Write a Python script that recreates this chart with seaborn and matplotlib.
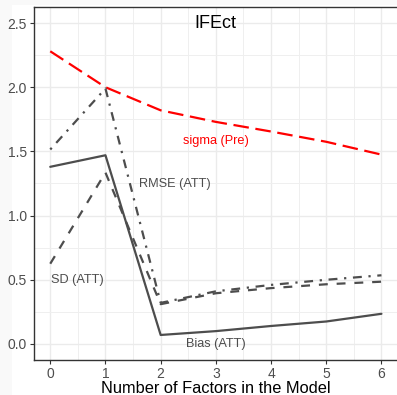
import matplotlib
matplotlib.use("Agg")
import matplotlib.pyplot as plt
from matplotlib.patches import Rectangle
from matplotlib.ticker import MultipleLocator
import pandas as pd
import seaborn as sns

factors = [0, 1, 2, 3, 4, 5, 6]
sigma_pre = [2.28, 2.00, 1.82, 1.73, 1.655, 1.575, 1.475]
rmse_att = [1.515, 1.99, 0.32, 0.41, 0.46, 0.50, 0.535]
sd_att = [0.625, 1.335, 0.31, 0.395, 0.435, 0.465, 0.485]
bias_att = [1.38, 1.47, 0.07, 0.10, 0.14, 0.175, 0.235]

series_names = ["sigma (Pre)", "RMSE (ATT)", "SD (ATT)", "Bias (ATT)"]
series_values = [sigma_pre, rmse_att, sd_att, bias_att]

df = pd.concat(
    [pd.DataFrame({"r": factors, "value": vals, "measure": name})
     for name, vals in zip(series_names, series_values)],
    ignore_index=True,
)

sns.set_theme(style="white")
plt.rcParams["font.family"] = ["Liberation Sans", "DejaVu Sans"]

fig = plt.figure(figsize=(3.97, 3.95), dpi=100)
fig.patch.set_facecolor("#f9f9f9")
fig.add_artist(Rectangle((12 / 397, 0), 1, (395 - 5) / 395,
                         transform=fig.transFigure, facecolor="white",
                         edgecolor="none", zorder=0))
ax = fig.add_axes([33.7 / 397, 35 / 395, (398 - 33.7) / 397, (360 - 7) / 395])
ax.set_facecolor("white")

palette = {"sigma (Pre)": "#ff0000", "RMSE (ATT)": "#4d4d4d",
           "SD (ATT)": "#4d4d4d", "Bias (ATT)": "#4d4d4d"}
dashes = {"sigma (Pre)": (7, 3), "RMSE (ATT)": (1, 3, 4, 3),
          "SD (ATT)": (4, 4), "Bias (ATT)": ""}

sns.lineplot(data=df, x="r", y="value", hue="measure", style="measure",
             palette=palette, dashes=dashes, linewidth=1.6, legend=False,
             ax=ax, zorder=3)

ax.set_xlim(-0.3, 6.3)
ax.set_ylim(-0.125, 2.625)
ax.xaxis.set_major_locator(MultipleLocator(1))
ax.xaxis.set_minor_locator(MultipleLocator(0.5))
ax.yaxis.set_major_locator(MultipleLocator(0.5))
ax.yaxis.set_minor_locator(MultipleLocator(0.25))
ax.set_xticks(factors)
ax.set_yticks([0.0, 0.5, 1.0, 1.5, 2.0, 2.5])
ax.set_yticklabels(["0.0", "0.5", "1.0", "1.5", "2.0", "2.5"])
ax.grid(which="major", color="#ebebeb", linewidth=1.0, zorder=0)
ax.grid(which="minor", color="#efefef", linewidth=0.7, zorder=0)
ax.set_axisbelow(True)

for side in ["left", "bottom", "top", "right"]:
    ax.spines[side].set_color("#333333")
    ax.spines[side].set_linewidth(1.0)

ax.tick_params(axis="both", which="major", length=3, width=0.8,
               color="#333333", labelcolor="#4d4d4d", labelsize=10, pad=2,
               bottom=True, left=True)
ax.tick_params(which="minor", length=0)

ax.set_xlabel("Number of Factors in the Model", fontsize=11.8, color="black",
              labelpad=0)
ax.set_ylabel("")

ax.text(3, 2.5, "IFEct", fontsize=13, color="black", ha="center", va="center")
ax.text(3, 1.58, "sigma (Pre)", fontsize=9.2, color="#ff0000", ha="center", va="center")
ax.text(2.25, 1.25, "RMSE (ATT)", fontsize=9.2, color="#4d4d4d", ha="center", va="center")
ax.text(0.5, 0.5, "SD (ATT)", fontsize=9.2, color="#4d4d4d", ha="center", va="center")
ax.text(3, 0.0, "Bias (ATT)", fontsize=9.2, color="#4d4d4d", ha="center", va="center")

fig.savefig("out.png", dpi=100, facecolor=fig.get_facecolor())
